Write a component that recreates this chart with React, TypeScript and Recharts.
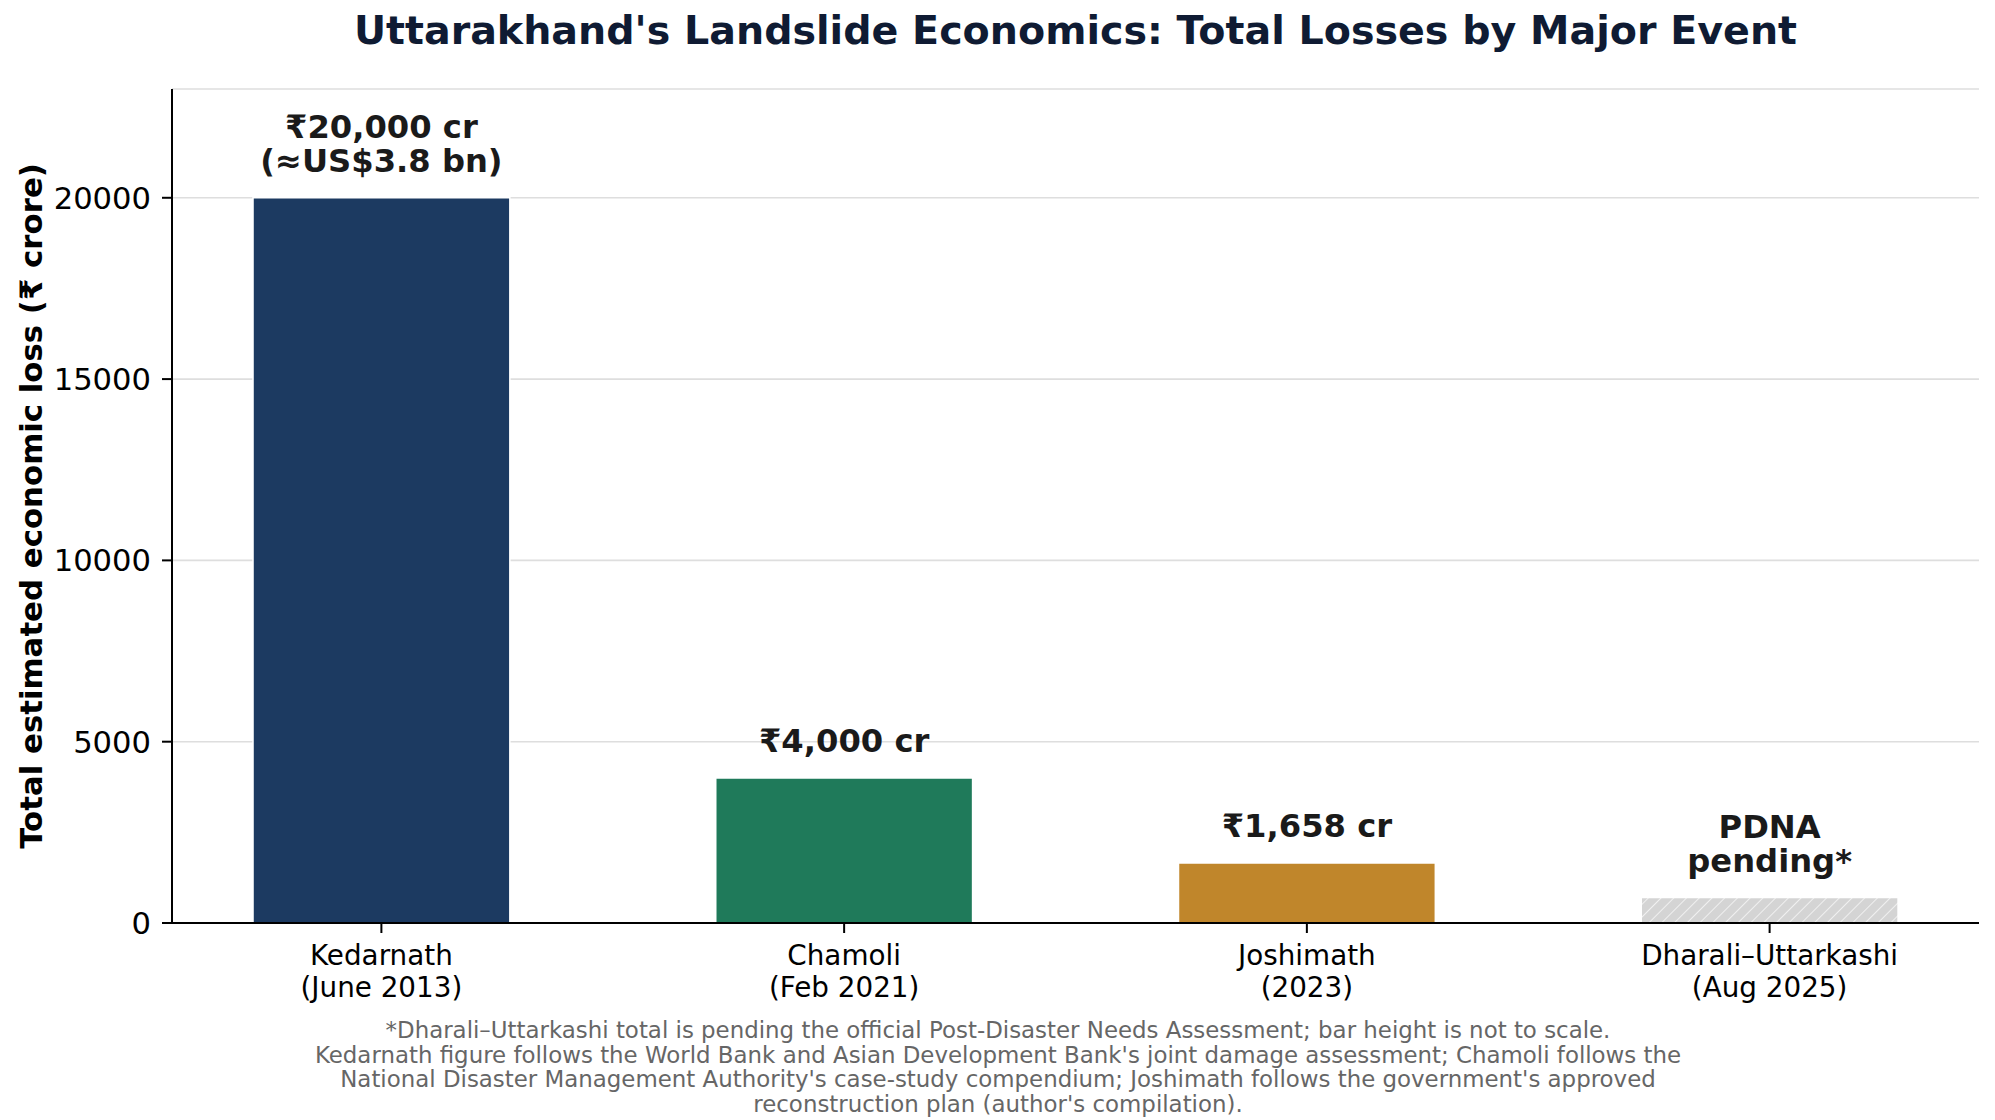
import {
  BarChart,
  Bar,
  XAxis,
  YAxis,
  CartesianGrid,
  Cell,
  LabelList,
} from "recharts";

const EVENT_NAMES = ["Kedarnath", "Chamoli", "Joshimath", "Dharali–Uttarkashi"];
const EVENT_DATES = ["(June 2013)", "(Feb 2021)", "(2023)", "(Aug 2025)"];
// last value is only a placeholder height (PDNA pending)
const LOSSES = [20000, 4000, 1658, 700];
const BAR_LABELS = [
  ["₹20,000 cr", "(≈US$3.8 bn)"],
  ["₹4,000 cr"],
  ["₹1,658 cr"],
  ["PDNA", "pending*"],
];
const BAR_COLORS = ["#1c3a61", "#1f7a5a", "#c0862b", "url(#pendingHatch)"];
const Y_TICKS = [0, 5000, 10000, 15000, 20000];
const FOOTNOTE = [
  "*Dharali–Uttarkashi total is pending the official Post-Disaster Needs Assessment; bar height is not to scale.",
  "Kedarnath figure follows the World Bank and Asian Development Bank's joint damage assessment; Chamoli follows the",
  "National Disaster Management Authority's case-study compendium; Joshimath follows the government's approved",
  "reconstruction plan (author's compilation).",
];

const TITLE = "Uttarakhand's Landslide Economics: Total Losses by Major Event";
const Y_LABEL = "Total estimated economic loss (₹ crore)";

const W = 1995;
const H = 1120;
const FONT = "'DejaVu Sans', 'Noto Sans', sans-serif";
const X_DOMAIN: [number, number] = [-0.4525, 3.4525];
const PLOT_LEFT = 172;
const PLOT_RIGHT = 1979;
const BAR_SIZE = ((PLOT_RIGHT - PLOT_LEFT) / (X_DOMAIN[1] - X_DOMAIN[0])) * 0.555;

const data = EVENT_NAMES.map((name, i) => ({ pos: i, name, loss: LOSSES[i] }));

function EventTick(props: any) {
  const { x, y, payload } = props;
  const i = Math.round(payload.value);
  return (
    <text x={x} textAnchor="middle" fontFamily={FONT} fontSize={27.8} fill="#000">
      <tspan x={x} y={y + 32}>
        {EVENT_NAMES[i]}
      </tspan>
      <tspan x={x} y={y + 64}>
        {EVENT_DATES[i]}
      </tspan>
    </text>
  );
}

function LossTick(props: any) {
  const { x, y, payload } = props;
  return (
    <text
      x={x}
      y={y}
      dy="0.36em"
      textAnchor="end"
      fontFamily={FONT}
      fontSize={30.6}
      fill="#000"
    >
      {String(payload.value)}
    </text>
  );
}

function BarLabel(props: any) {
  const vb = props.viewBox && props.viewBox.width != null ? props.viewBox : props;
  const idx = props.index ?? props.value;
  const lines = BAR_LABELS[idx] || [];
  const cx = vb.x + vb.width / 2;
  const lastBaseline = vb.y - 25.5;
  return (
    <text
      x={cx}
      textAnchor="middle"
      fontFamily={FONT}
      fontSize={32.2}
      fontWeight="bold"
      fill="#1a1a1a"
    >
      {lines.map((l, k) => (
        <tspan key={k} x={cx} y={lastBaseline - (lines.length - 1 - k) * 34.5}>
          {l}
        </tspan>
      ))}
    </text>
  );
}

export default function App() {
  return (
    <div style={{ position: "absolute", left: 0, top: 0, width: W, height: H, background: "#fff" }}>
      <BarChart
        width={W}
        height={H}
        data={data}
        margin={{ top: 89, right: W - PLOT_RIGHT, bottom: 97, left: PLOT_LEFT - 110 }}
      >
        <defs>
          <pattern
            id="pendingHatch"
            patternUnits="userSpaceOnUse"
            width={9}
            height={9}
            patternTransform="rotate(45)"
          >
            <rect x={0} y={0} width={9} height={9} fill="#d4d4d4" />
            <line x1={0} y1={0} x2={0} y2={9} stroke="#f4f4f4" strokeWidth={1.8} />
          </pattern>
        </defs>
        <CartesianGrid vertical={false} stroke="#dedede" strokeWidth={1.6} />
        <XAxis
          dataKey="pos"
          type="number"
          domain={X_DOMAIN}
          ticks={[0, 1, 2, 3]}
          allowDataOverflow
          height={100}
          tickSize={10}
          tickMargin={0}
          axisLine={{ stroke: "#000", strokeWidth: 2 }}
          tickLine={{ stroke: "#000", strokeWidth: 2 }}
          tick={<EventTick />}
          interval={0}
        />
        <YAxis
          domain={[0, 23000]}
          ticks={Y_TICKS}
          allowDataOverflow
          width={110}
          tickSize={10}
          tickMargin={11}
          axisLine={{ stroke: "#000", strokeWidth: 2 }}
          tickLine={{ stroke: "#000", strokeWidth: 2 }}
          tick={<LossTick />}
          interval={0}
        />
        <Bar
          dataKey="loss"
          barSize={BAR_SIZE}
          stroke="#ffffff"
          strokeWidth={1.5}
          isAnimationActive={false}
        >
          {data.map((_d, i) => (
            <Cell key={`cell-${i}`} fill={BAR_COLORS[i]} />
          ))}
          <LabelList dataKey="pos" content={<BarLabel />} />
        </Bar>
      </BarChart>
      <svg
        width={W}
        height={H}
        style={{ position: "absolute", left: 0, top: 0, pointerEvents: "none" }}
      >
        <text
          x={(PLOT_LEFT + PLOT_RIGHT) / 2}
          y={44}
          textAnchor="middle"
          fontFamily={FONT}
          fontSize={39.6}
          fontWeight="bold"
          fill="#0f1b33"
        >
          {TITLE}
        </text>
        <text
          x={42}
          y={506}
          transform="rotate(-90 42 506)"
          textAnchor="middle"
          fontFamily={FONT}
          fontSize={30.8}
          fontWeight="bold"
          fill="#000"
        >
          {Y_LABEL}
        </text>
        <text textAnchor="middle" fontFamily={FONT} fontSize={22.9} fill="#666666">
          {FOOTNOTE.map((line, i) => (
            <tspan key={i} x={998} y={1038 + i * 24.5}>
              {line}
            </tspan>
          ))}
        </text>
      </svg>
    </div>
  );
}
